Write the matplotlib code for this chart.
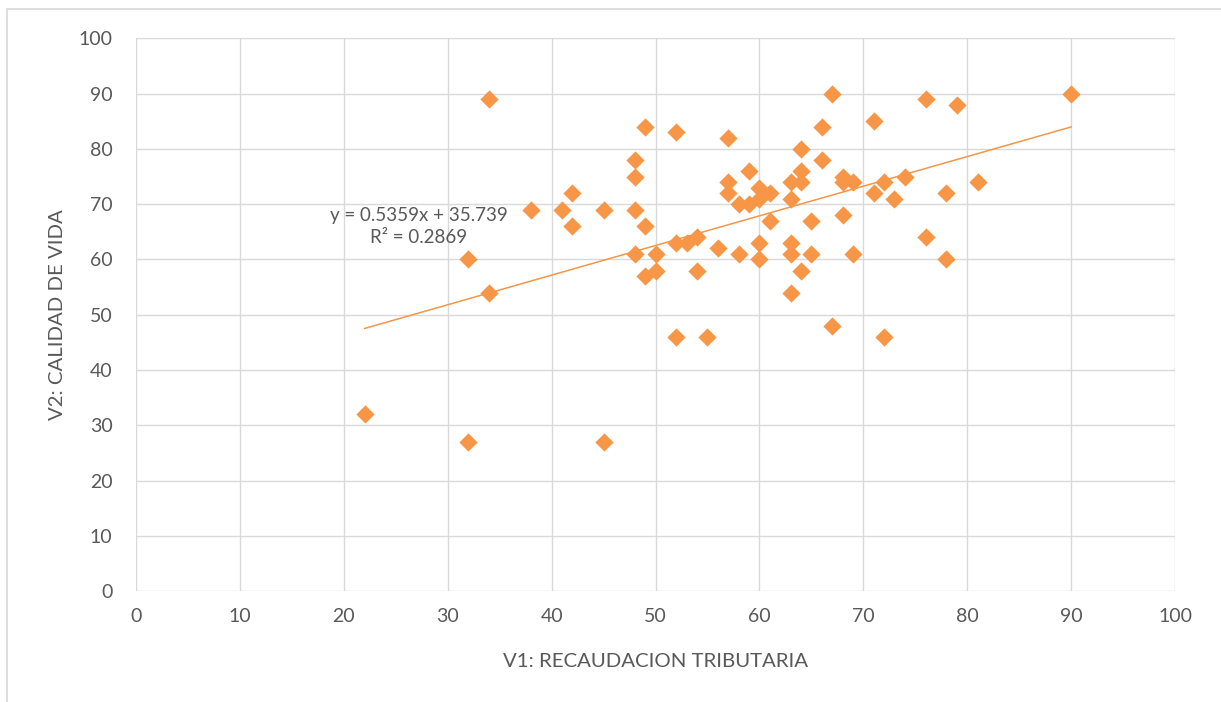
import matplotlib.pyplot as plt
import numpy as np
from matplotlib.patches import Rectangle

# V1 / V2 values
recaudacion = [22, 32, 32, 34, 34, 38, 41, 42, 42, 45, 45, 48, 48, 48, 48, 49, 49, 49, 50, 50,
               52, 52, 52, 53, 54, 54, 55, 56, 57, 57, 57, 58, 58, 59, 59, 60, 60, 60, 60, 61,
               61, 63, 63, 63, 63, 63, 64, 64, 64, 64, 65, 65, 66, 66, 67, 67, 68, 68, 68, 69,
               69, 71, 71, 72, 72, 73, 74, 76, 76, 78, 78, 79, 81, 90]
calidad = [32, 27, 60, 89, 54, 69, 69, 72, 66, 69, 27, 78, 75, 69, 61, 84, 66, 57, 61, 58,
           83, 63, 46, 63, 64, 58, 46, 62, 82, 74, 72, 70, 61, 76, 70, 73, 71, 63, 60, 72,
           67, 74, 71, 63, 61, 54, 80, 76, 74, 58, 67, 61, 84, 78, 90, 48, 75, 74, 68, 74,
           61, 85, 72, 74, 46, 71, 75, 89, 64, 72, 60, 88, 74, 90]

# trendline as reported by the chart
pendiente = 0.5359
intercepto = 35.739
r2 = 0.2869

naranja = '#F79646'
gris_txt = '#595959'
gris_grid = '#D9D9D9'

plt.rcParams['font.family'] = ['Lato', 'DejaVu Sans']

fig = plt.figure(figsize=(12.21, 7.02), dpi=100)
# outer chart border (only left/top visible in the crop)
fig.patches.append(Rectangle((7 / 1221, -0.05), 1.2, (702 - 9) / 702 + 0.05,
                             transform=fig.transFigure, fill=False,
                             edgecolor=gris_grid, linewidth=1.2))

ax = fig.add_axes([136 / 1221, (702 - 591.3) / 702, (1175 - 136) / 1221, (591.3 - 38.3) / 702])

ax.scatter(recaudacion, calidad, marker='D', s=9.3 ** 2, color=naranja, linewidths=0, zorder=3)

xs = np.array([min(recaudacion), max(recaudacion)])
ax.plot(xs, pendiente * xs + intercepto, color=naranja, linewidth=1.1, zorder=4)

ax.text(27.2, 66, 'y = %.4fx + %.3f\nR² = %.4f' % (pendiente, intercepto, r2),
        ha='center', va='center', multialignment='center', fontsize=13.5, color=gris_txt,
        linespacing=1.35, zorder=5)

ax.set_xlim(0, 100)
ax.set_ylim(0, 100)
ax.set_xticks(np.arange(0, 101, 10))
ax.set_yticks(np.arange(0, 101, 10))
ax.grid(True, color=gris_grid, linewidth=1.0, zorder=0)
ax.set_axisbelow(True)
for s in ax.spines.values():
    s.set_visible(False)
ax.tick_params(length=0, labelsize=14, labelcolor=gris_txt)
ax.tick_params(axis='y', pad=17)
ax.tick_params(axis='x', pad=12)

ax.set_xlabel('V1: RECAUDACION TRIBUTARIA', fontsize=14.7, color=gris_txt, labelpad=20)
ax.set_ylabel('V2: CALIDAD DE VIDA', fontsize=14.7, color=gris_txt, labelpad=9)

fig.savefig('out.png', dpi=100)
